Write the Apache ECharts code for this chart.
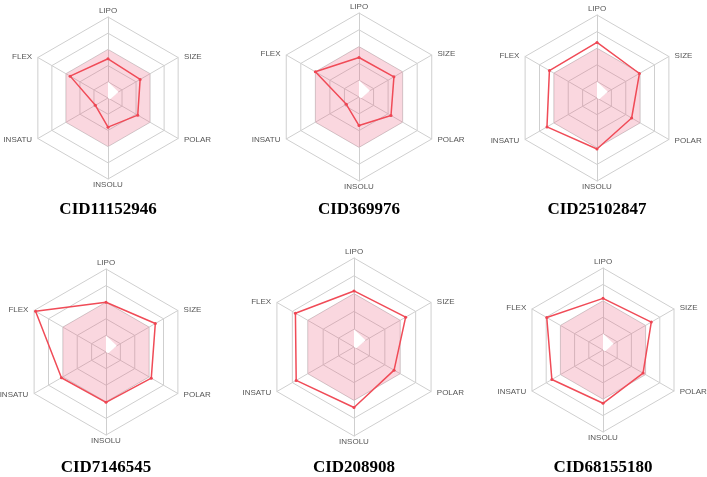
<!DOCTYPE html>
<html>
<head>
  <meta charset="utf-8">
  <title>Bioavailability radar</title>
  <script src="https://cdn.jsdelivr.net/npm/echarts@6/dist/echarts.min.js"></script>
  <style>
    html, body { margin: 0; padding: 0; background: #fff; }
    #chart { width: 707px; height: 477px; }
  </style>
</head>
<body>
<div id="chart"></div>
<script>
  // axes, counter-clockwise from top (echarts radar order)
  var axes = ['LIPO', 'FLEX', 'INSATU', 'INSOLU', 'POLAR', 'SIZE'];
  var compounds = ['CID11152946', 'CID369976', 'CID25102847', 'CID7146545', 'CID208908', 'CID68155180'];

  // compound values, same order as axes
  var v11152946 = [2.42, 2.7, 0.9, 1.8, 2.12, 2.29];
  var v369976 = [2.35, 3.0, 0.87, 1.7, 2.2, 2.4];
  var v25102847 = [3.35, 3.31, 3.48, 3.07, 2.41, 2.95];
  var v7146545 = [3.0, 4.9, 3.1, 3.03, 3.15, 3.43];
  var v208908 = [3.15, 3.8, 3.75, 3.4, 2.6, 3.35];
  var v68155180 = [3.15, 3.96, 3.6, 3.25, 2.82, 3.4];
  var values = [v11152946, v369976, v25102847, v7146545, v208908, v68155180];

  // optimal range (pink) and the small white gap near the centre
  var optimal = [3, 3, 3, 3, 3, 3];
  var gap = [1, 0, 0, 0, 0.15, 0.75];

  // layout of the six panels
  var centers = [[108, 98], [359, 97], [597, 98], [106, 352], [354, 347], [603, 350]];
  var radii = [81, 84, 83, 83, 89, 82];
  var titleY = [210, 210, 210, 468, 468, 468];

  var chart = echarts.init(document.getElementById('chart'));

  var radars = [], series = [], graphics = [];
  for (var i = 0; i < compounds.length; i++) {
    radars.push({
      center: centers[i],
      radius: radii[i],
      shape: 'polygon',
      splitNumber: 5,
      nameGap: 2,
      indicator: axes.map(function (a) { return { name: a, min: 0, max: 5 }; }),
      axisName: { color: '#555', fontSize: 8, padding: [0, 4], fontFamily: 'Liberation Sans, Arial, sans-serif' },
      splitLine: { lineStyle: { color: '#cfcfcf', width: 1 } },
      splitArea: { show: false },
      axisLine: { lineStyle: { color: '#cfcfcf', width: 1 } }
    });
    series.push({
      type: 'radar', radarIndex: i, symbol: 'none', silent: true, z: 1,
      lineStyle: { width: 0 },
      areaStyle: { color: 'rgba(236, 90, 125, 0.35)' },
      data: [{ value: optimal }]
    });
    series.push({
      type: 'radar', radarIndex: i, symbol: 'none', silent: true, z: 1,
      lineStyle: { width: 0 },
      areaStyle: { color: '#ffffff', opacity: 1 },
      data: [{ value: gap }]
    });
    series.push({
      type: 'radar', radarIndex: i, symbol: 'circle', symbolSize: 3, z: 3,
      itemStyle: { color: '#ee4552' },
      lineStyle: { color: '#f04b57', width: 1.5 },
      data: [{ value: values[i], name: compounds[i] }]
    });
    graphics.push({
      type: 'text',
      x: centers[i][0],
      y: titleY[i],
      style: {
        text: compounds[i],
        fill: '#000',
        font: 'bold 17px "Liberation Serif", "Times New Roman", serif',
        textAlign: 'center',
        textVerticalAlign: 'middle'
      }
    });
  }

  var option = {
    animation: false,
    radar: radars,
    series: series,
    graphic: graphics
  };
  chart.setOption(option);
</script>
</body>
</html>
